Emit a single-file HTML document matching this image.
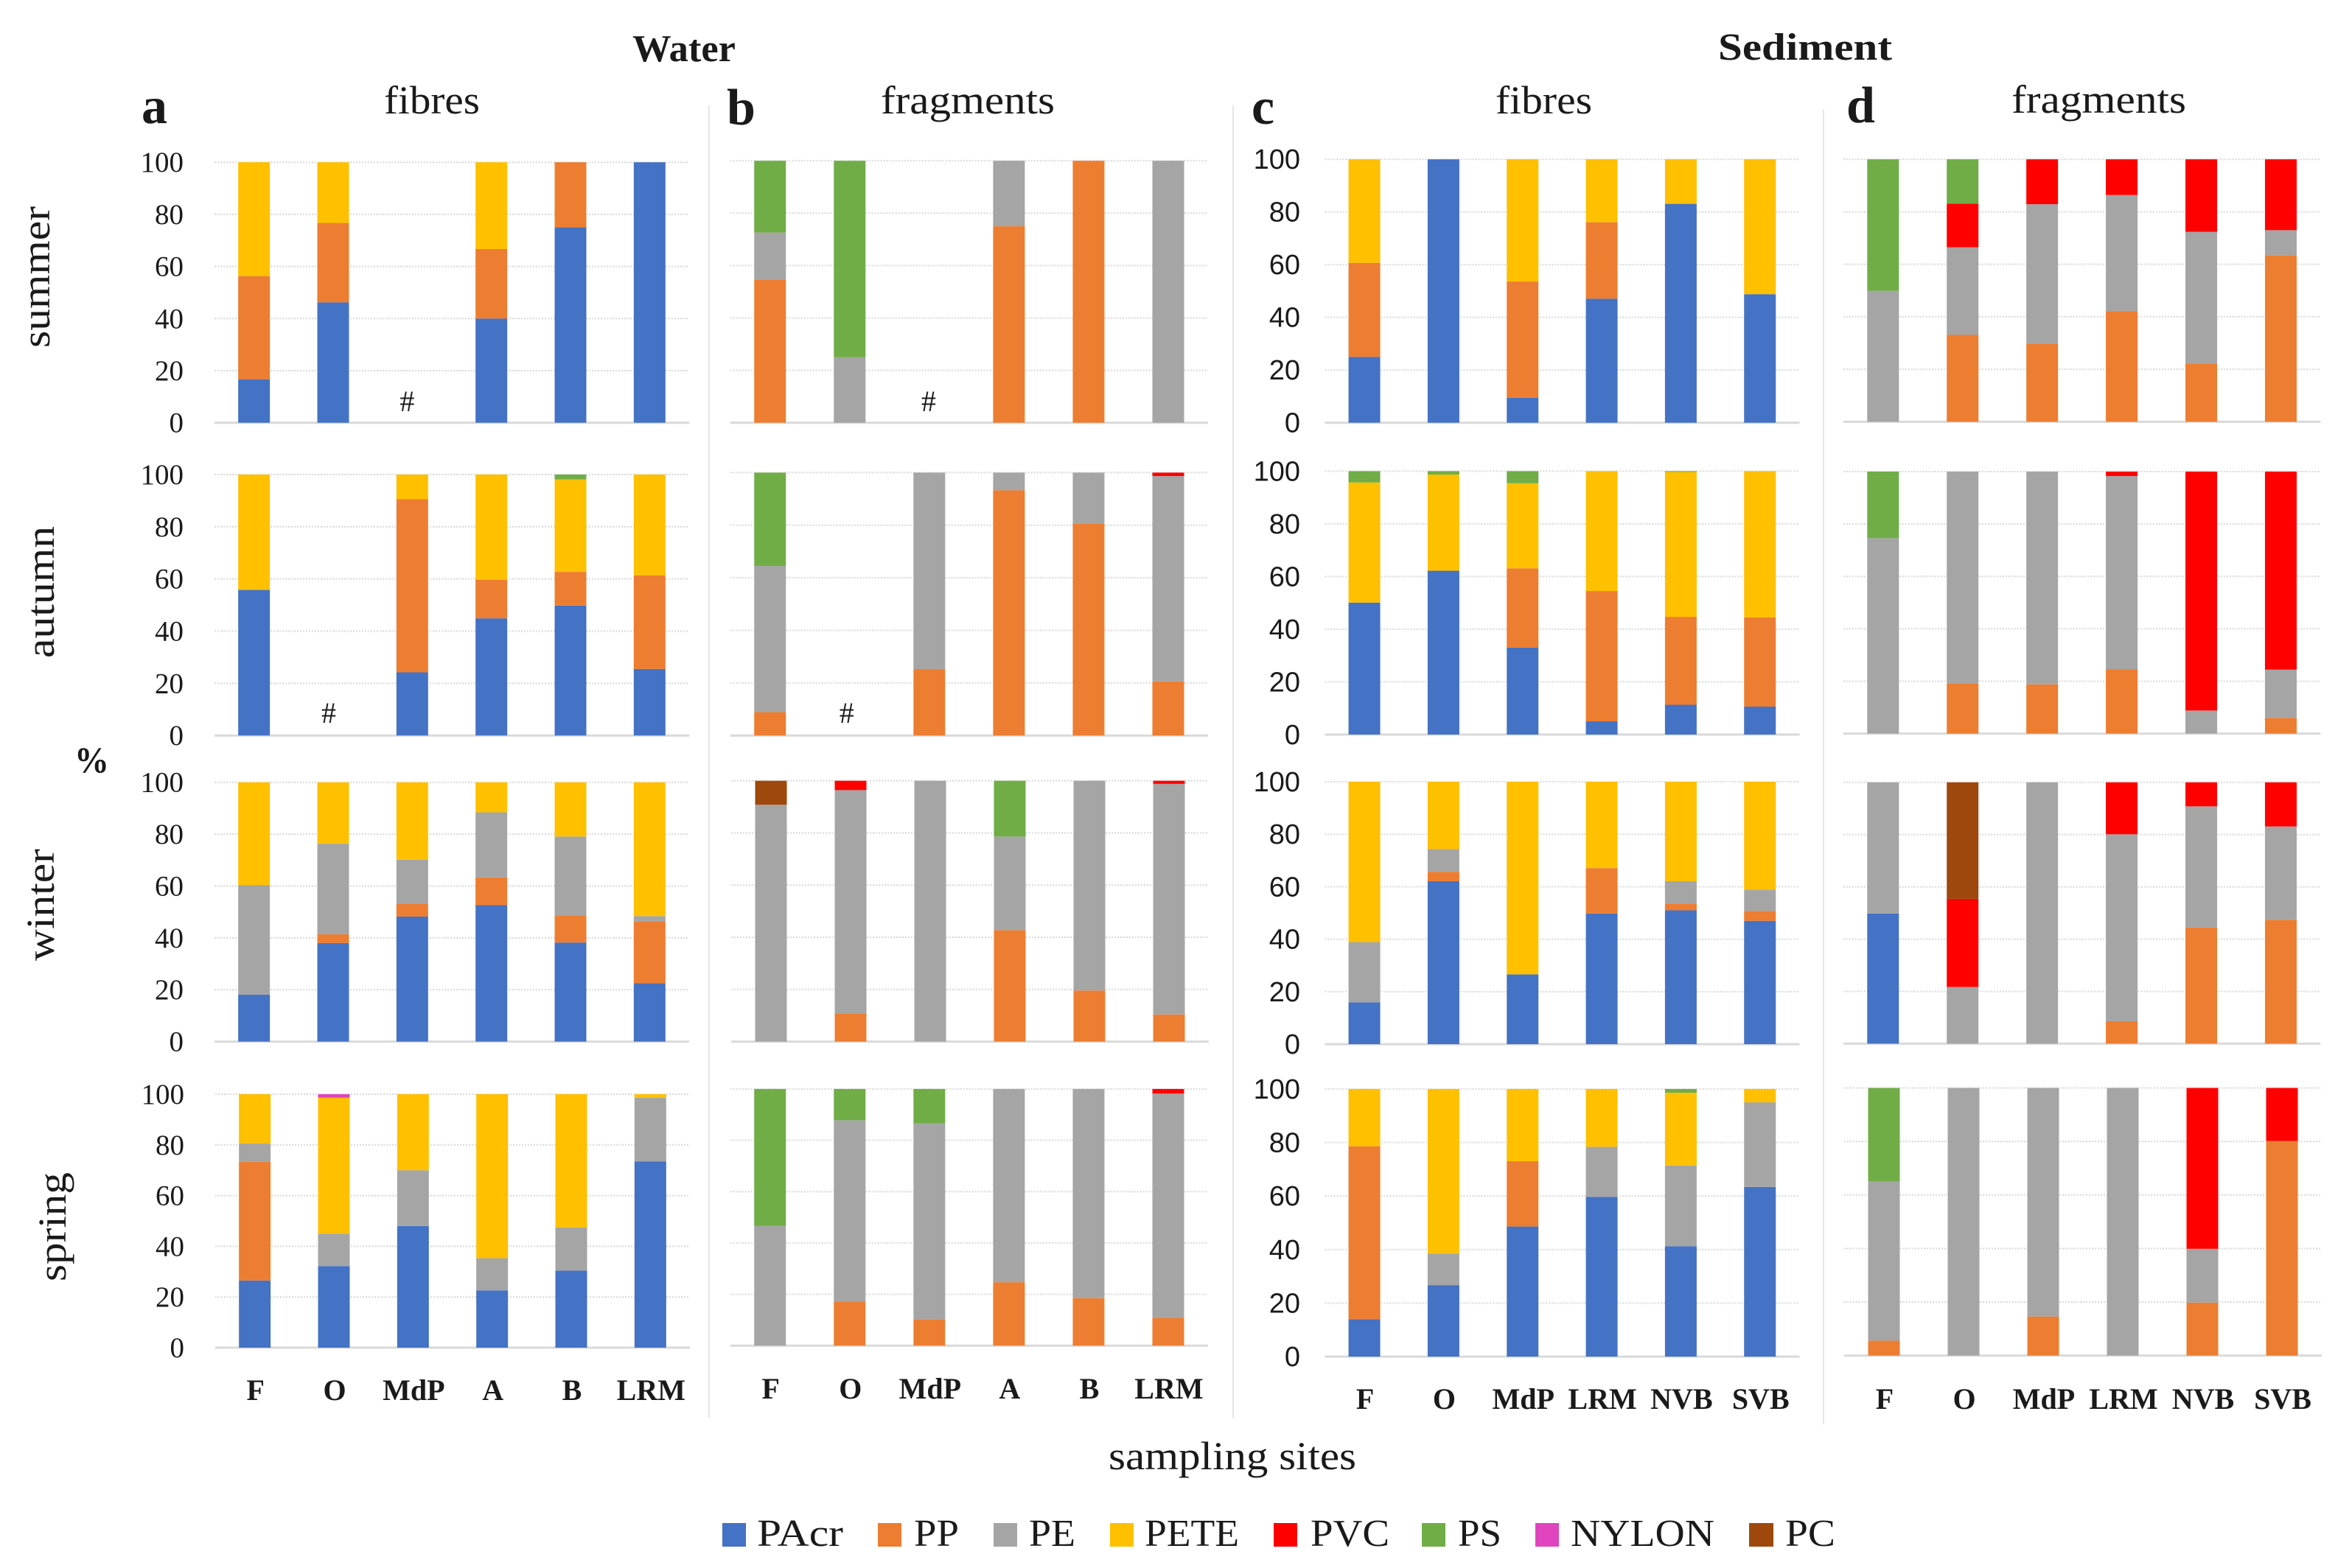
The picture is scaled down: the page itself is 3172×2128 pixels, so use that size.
<!DOCTYPE html>
<html lang="en">
<head>
<meta charset="utf-8">
<title>Polymer composition of microplastics in water and sediment</title>
<style>
html,body{margin:0;padding:0;background:#fff;width:3172px;height:2128px;overflow:hidden}
svg{display:block}
text{font-family:"Liberation Serif",serif;fill:#1a1a1a}
</style>
</head>
<body>
<svg id="figure" xmlns="http://www.w3.org/2000/svg" width="3172" height="2128" viewBox="0 0 3172 2128">
<rect x="0" y="0" width="3172" height="2128" fill="#ffffff"/>

<line x1="962" y1="143" x2="962" y2="1924" stroke="#e6e6e6" stroke-width="2"/>
<line x1="1673" y1="143" x2="1673" y2="1924" stroke="#e6e6e6" stroke-width="2"/>
<line x1="2474" y1="149" x2="2474" y2="1933" stroke="#e6e6e6" stroke-width="2"/>

<text x="858" y="83" font-size="52" font-weight="bold" textLength="140" lengthAdjust="spacingAndGlyphs">Water</text>
<text x="2331" y="81" font-size="52" font-weight="bold" textLength="236" lengthAdjust="spacingAndGlyphs">Sediment</text>

<text x="192" y="167" font-size="70" font-weight="bold">a</text>
<text x="986" y="169" font-size="70" font-weight="bold">b</text>
<text x="1698" y="168" font-size="70" font-weight="bold">c</text>
<text x="2505" y="166" font-size="70" font-weight="bold">d</text>

<text x="521" y="154" font-size="54" textLength="130" lengthAdjust="spacingAndGlyphs">fibres</text>
<text x="1195" y="154" font-size="54" textLength="236" lengthAdjust="spacingAndGlyphs">fragments</text>
<text x="2029" y="154" font-size="54" textLength="131" lengthAdjust="spacingAndGlyphs">fibres</text>
<text x="2729" y="153" font-size="54" textLength="237" lengthAdjust="spacingAndGlyphs">fragments</text>

<text transform="translate(67,472) rotate(-90)" font-size="54" textLength="192" lengthAdjust="spacingAndGlyphs">summer</text>
<text transform="translate(73,893) rotate(-90)" font-size="54" textLength="179" lengthAdjust="spacingAndGlyphs">autumn</text>
<text transform="translate(73,1304) rotate(-90)" font-size="54" textLength="152" lengthAdjust="spacingAndGlyphs">winter</text>
<text transform="translate(89,1739) rotate(-90)" font-size="54" textLength="148" lengthAdjust="spacingAndGlyphs">spring</text>

<text x="101" y="1048" font-size="50" font-weight="bold" textLength="47" lengthAdjust="spacingAndGlyphs">%</text>
<text x="1504" y="1994" font-size="54" textLength="336" lengthAdjust="spacingAndGlyphs">sampling sites</text>

<g id="charts"></g>

<g>
  <g><rect x="980" y="2067" width="32" height="32" fill="#4472C4"/><text x="1027" y="2098" font-size="52" textLength="117" lengthAdjust="spacingAndGlyphs">PAcr</text></g>
  <g><rect x="1191" y="2067" width="32" height="32" fill="#ED7D31"/><text x="1240" y="2098" font-size="52" textLength="61" lengthAdjust="spacingAndGlyphs">PP</text></g>
  <g><rect x="1348" y="2067" width="32" height="32" fill="#A5A5A5"/><text x="1396" y="2098" font-size="52" textLength="63" lengthAdjust="spacingAndGlyphs">PE</text></g>
  <g><rect x="1506" y="2067" width="32" height="32" fill="#FFC000"/><text x="1553" y="2098" font-size="52" textLength="128" lengthAdjust="spacingAndGlyphs">PETE</text></g>
  <g><rect x="1728" y="2067" width="32" height="32" fill="#FF0000"/><text x="1778" y="2098" font-size="52" textLength="107" lengthAdjust="spacingAndGlyphs">PVC</text></g>
  <g><rect x="1929" y="2067" width="32" height="32" fill="#70AD47"/><text x="1978" y="2098" font-size="52" textLength="59" lengthAdjust="spacingAndGlyphs">PS</text></g>
  <g><rect x="2083" y="2067" width="32" height="32" fill="#E044BE"/><text x="2131" y="2098" font-size="52" textLength="195" lengthAdjust="spacingAndGlyphs">NYLON</text></g>
  <g><rect x="2373" y="2067" width="33" height="32" fill="#9E480E"/><text x="2422" y="2098" font-size="52" textLength="68" lengthAdjust="spacingAndGlyphs">PC</text></g>
</g>
</svg>

<script>
// Categories and ticks
const polymers = ['PAcr','PP','PE','PETE','PVC','PS','NYLON','PC'];
const waterSites = ['F','O','MdP','A','B','LRM'];
const sedimentSites = ['F','O','MdP','LRM','NVB','SVB'];
const yTicks = [0,20,40,60,80,100];

// Values: one row per site, segments in polymer order (% share; omitted trailing = 0)
const aSummer = [[16.7,39.6,0,43.7],[46.2,30.5,0,23.3],[],[40,26.7,0,33.3],[75,25],[100]];
const aAutumn = [[55.8,0,0,44.2],[],[24.2,66.4,0,9.4],[44.9,14.8,0,40.3],[49.8,12.9,0,35.4,0,1.9],[25.5,35.9,0,38.6]];
const aWinter = [[18.1,0,42.3,39.6],[38,3.4,34.9,23.7],[48.2,5,16.9,29.9],[52.6,10.7,25.1,11.6],[38.2,10.4,30.5,20.9],[22.5,23.9,2,51.6]];
const aSpring = [[26.5,46.8,7.2,19.5],[32.2,0,12.8,53.6,0,0,1.4],[48,0,22,30],[22.6,0,12.7,64.7],[30.4,0,17,52.6],[73.5,0,25.1,1.4]];

const bSummer = [[0,54.7,17.9,0,0,27.4],[0,0,25,0,0,75],[],[0,75,25],[0,100],[0,0,100]];
const bAutumn = [[0,8.9,55.6,0,0,35.5],[],[0,25.3,74.7],[0,93.3,6.7],[0,80.5,19.5],[0,20.6,78.1,0,1.3]];
const bWinter = [[0,0,90.8,0,0,0,0,9.2],[0,10.8,85.6,0,3.6],[0,0,100],[0,42.7,35.9,0,0,21.4],[0,19.6,80.4],[0,10.4,88.4,0,1.2]];
const bSpring = [[0,0,46.7,0,0,53.3],[0,17,70.8,0,0,12.2],[0,10.3,76.3,0,0,13.4],[0,24.7,75.3],[0,18.5,81.5],[0,10.8,87.4,0,1.8]];

const cSummer = [[25,35.7,0,39.3],[100],[9.5,44.1,0,46.4],[47.1,29,0,23.9],[83.1,0,0,16.9],[48.8,0,0,51.2]];
const cAutumn = [[50.1,0,0,45.6,0,4.3],[62.2,0,0,36.5,0,1.3],[33,30.1,0,32.3,0,4.6],[5,49.5,0,45.5],[11.3,33.4,0,55,0,0.3],[10.6,33.9,0,55.5]];
const cWinter = [[15.9,0,23,61.1],[62.1,3.6,8.7,25.6],[26.6,0,0,73.4],[49.8,17.3,0,32.9],[51,2.6,8.5,37.9],[47,3.8,8.1,41.1]];
const cSpring = [[14,64.6,0,21.4],[26.7,0,11.8,61.5],[48.6,24.4,0,27],[59.7,0,18.7,21.6],[41.2,0,30.2,27.2,0,1.4],[63.4,0,31.6,5]];

const dSummer = [[0,0,49.9,0,0,50.1],[0,33.1,33.4,0,16.6,16.9],[0,29.8,53.1,0,17.1],[0,42.1,44.3,0,13.6],[0,22.2,50.2,0,27.6],[0,63.5,9.5,0,27]];
const dAutumn = [[0,0,74.6,0,0,25.4],[0,19.2,80.8],[0,18.8,81.2],[0,24.6,73.7,0,1.7],[0,0,8.8,0,91.2],[0,6,18.4,0,75.6]];
const dWinter = [[49.8,0,50.2],[0,0,21.7,0,33.7,0,0,44.6],[0,0,100],[0,8.6,71.5,0,19.9],[0,44.4,46.4,0,9.2],[0,47.4,35.7,0,16.9]];
const dSpring = [[0,5.6,59.4,0,0,35],[0,0,100],[0,14.6,85.4],[0,0,100],[0,19.8,20.1,0,60.1],[0,80.2,0,0,19.8]];

// Styling and layout
const polymerColors = {PAcr:'#4472C4',PP:'#ED7D31',PE:'#A5A5A5',PETE:'#FFC000',PVC:'#FF0000',PS:'#70AD47',NYLON:'#E044BE',PC:'#9E480E'};
const NS = 'http://www.w3.org/2000/svg';
const root = document.getElementById('charts');

const charts = [
 {id:'a-summer',rows:aSummer,sites:waterSites,left:291,right:935,top:220.2,base:573.7,ticks:'serif',tickX:249},
 {id:'a-autumn',rows:aAutumn,sites:waterSites,left:291,right:935,top:644,base:998.2,ticks:'serif',tickX:249},
 {id:'a-winter',rows:aWinter,sites:waterSites,left:291,right:935,top:1061.7,base:1413.6,ticks:'serif',tickX:249},
 {id:'a-spring',rows:aSpring,sites:waterSites,left:292,right:936,top:1485,base:1829,ticks:'serif',tickX:250,labelY:1900},
 {id:'b-summer',rows:bSummer,sites:waterSites,left:990.7,right:1639,top:218.2,base:573.7},
 {id:'b-autumn',rows:bAutumn,sites:waterSites,left:990.7,right:1639,top:641.4,base:998.2},
 {id:'b-winter',rows:bWinter,sites:waterSites,left:992,right:1640,top:1059.6,base:1413.6},
 {id:'b-spring',rows:bSpring,sites:waterSites,left:990.7,right:1639,top:1477.9,base:1826.2,labelY:1898},
 {id:'c-summer',rows:cSummer,sites:sedimentSites,left:1797.4,right:2441.4,top:216.2,base:573.7,ticks:'sans',tickX:1764},
 {id:'c-autumn',rows:cAutumn,sites:sedimentSites,left:1797.4,right:2441.4,top:639.4,base:996.9,ticks:'sans',tickX:1764},
 {id:'c-winter',rows:cWinter,sites:sedimentSites,left:1797.4,right:2441.4,top:1061,base:1417.1,ticks:'sans',tickX:1764},
 {id:'c-spring',rows:cSpring,sites:sedimentSites,left:1797.4,right:2441.4,top:1477.9,base:1841.1,ticks:'sans',tickX:1764,labelY:1912},
 {id:'d-summer',rows:dSummer,sites:sedimentSites,left:2500.8,right:3148.4,top:216.2,base:572.4},
 {id:'d-autumn',rows:dAutumn,sites:sedimentSites,left:2500.8,right:3148.4,top:640,base:995.6},
 {id:'d-winter',rows:dWinter,sites:sedimentSites,left:2500.8,right:3148.4,top:1061.7,base:1416.4},
 {id:'d-spring',rows:dSpring,sites:sedimentSites,left:2502,right:3150,top:1476.5,base:1839.7,labelY:1912}
];

// "No data" markers, by chart and site category
const noDataMarks = [
 {chart:'a-summer',site:'MdP',dx:-7,y:558},
 {chart:'a-autumn',site:'O',dx:-6,y:981},
 {chart:'b-summer',site:'MdP',dx:-1,y:558},
 {chart:'b-autumn',site:'O',dx:-4,y:981}
];

function xCenter(chart, i){ return chart.left + (i + 0.5) * (chart.right - chart.left) / chart.sites.length; }
function yPos(chart, v){ return chart.base - (v / 100) * (chart.base - chart.top); }

function svgEl(tag, attrs, parent){
  const el = document.createElementNS(NS, tag);
  for (const k in attrs) el.setAttribute(k, attrs[k]);
  parent.appendChild(el);
  return el;
}

const BAR_W = 43;

charts.forEach(function(chart){
  const g = svgEl('g', {}, root);
  
  

  yTicks.forEach(function(t){
    if (t === 0) return;
    const grid = svgEl('line', {x1:chart.left,x2:chart.right,y1:yPos(chart,t),y2:yPos(chart,t),stroke:'#d8d8d8','stroke-width':2,'stroke-dasharray':'2 2'}, g);
    
    
  });

  const axis = svgEl('line', {x1:chart.left,x2:chart.right,y1:chart.base,y2:chart.base,stroke:'#d9d9d9','stroke-width':3}, g);
  
  

  chart.rows.forEach(function(row, i){
    let cum = 0;
    polymers.forEach(function(p, s){
      const v = row[s] || 0;
      if (v <= 0) return;
      const y1 = yPos(chart, cum + v);
      const y0 = yPos(chart, cum);
      cum += v;
      const bar = svgEl('rect', {x:xCenter(chart,i)-BAR_W/2,y:y1,width:BAR_W,height:y0-y1,fill:polymerColors[p]}, g);
      
      
    });
  });

  if (chart.ticks) {
    yTicks.forEach(function(t){
      const isSans = chart.ticks === 'sans';
      const lab = svgEl('text', {x:chart.tickX,y:yPos(chart,t)+13,'text-anchor':'end','font-size':isSans?38:39}, g);
      if (isSans) lab.style.fontFamily = '"Liberation Sans", sans-serif';
      lab.textContent = String(t);
      
      
    });
  }

  if (chart.labelY) {
    chart.sites.forEach(function(site, i){
      const lab = svgEl('text', {x:xCenter(chart,i)+1,y:chart.labelY,'text-anchor':'middle','font-size':40,'font-weight':'bold'}, g);
      lab.textContent = site;
      
      
    });
  }
});

noDataMarks.forEach(function(m){
  const chart = charts.find(function(c){ return c.id === m.chart; });
  const i = chart.sites.indexOf(m.site);
  const mark = svgEl('text', {x:xCenter(chart,i)+m.dx,y:m.y,'text-anchor':'middle','font-size':40}, root);
  mark.textContent = '#';
  
  
});
</script>
</body>
</html>
